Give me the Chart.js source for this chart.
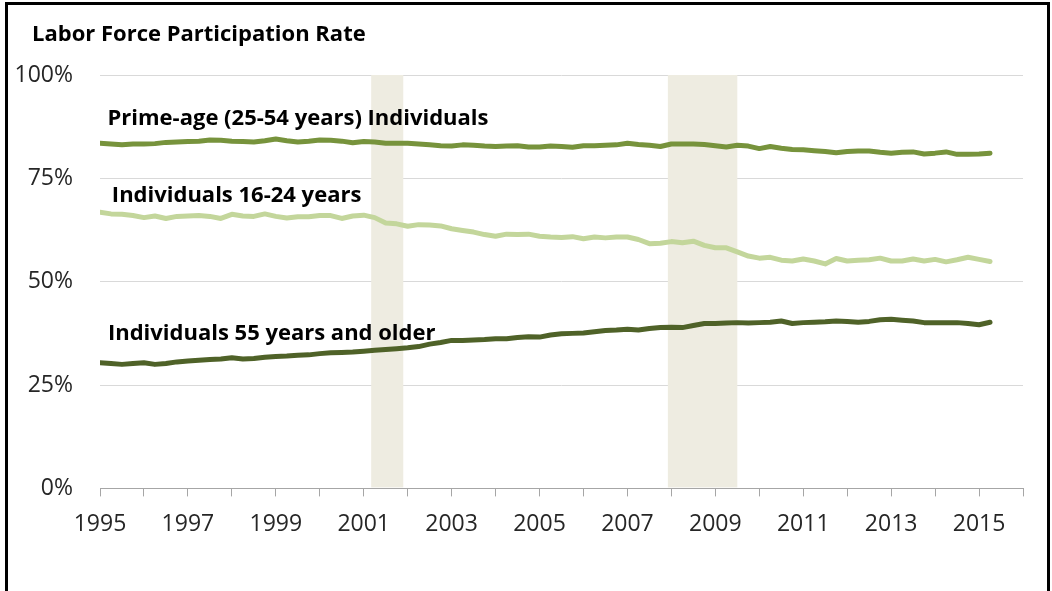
<!DOCTYPE html>
<html>
<head>
<meta charset="utf-8">
<script src="https://cdn.jsdelivr.net/npm/chart.js@4/dist/chart.umd.min.js"></script>
<style>
html, body { margin: 0; padding: 0; background: #fff; overflow: hidden }
#wrap { position: relative; width: 1052px; height: 591px }
#frame { position: absolute; left: 5px; top: 2px; width: 1039px; height: 620px; border: 3px solid #000; pointer-events: none }
</style>
</head>
<body>
<div id="wrap">
<canvas id="grafico" width="1052" height="591"></canvas>
<div id="frame"></div>
</div>
<script>
const titulo = "Labor Force Participation Rate"

// trimestres (ano decimal)
const datas = [
    1995, 1995.25, 1995.5, 1995.75, 1996, 1996.25, 1996.5, 1996.75,
    1997, 1997.25, 1997.5, 1997.75, 1998, 1998.25, 1998.5, 1998.75,
    1999, 1999.25, 1999.5, 1999.75, 2000, 2000.25, 2000.5, 2000.75,
    2001, 2001.25, 2001.5, 2001.75, 2002, 2002.25, 2002.5, 2002.75,
    2003, 2003.25, 2003.5, 2003.75, 2004, 2004.25, 2004.5, 2004.75,
    2005, 2005.25, 2005.5, 2005.75, 2006, 2006.25, 2006.5, 2006.75,
    2007, 2007.25, 2007.5, 2007.75, 2008, 2008.25, 2008.5, 2008.75,
    2009, 2009.25, 2009.5, 2009.75, 2010, 2010.25, 2010.5, 2010.75,
    2011, 2011.25, 2011.5, 2011.75, 2012, 2012.25, 2012.5, 2012.75,
    2013, 2013.25, 2013.5, 2013.75, 2014, 2014.25, 2014.5, 2014.75,
    2015, 2015.25
]

const primeAge = [
    83.5, 83.3, 83.1, 83.3, 83.3, 83.4, 83.7, 83.8,
    83.9, 84.0, 84.3, 84.2, 84.0, 83.9, 83.8, 84.1,
    84.5, 84.1, 83.8, 84.0, 84.3, 84.2, 84.0, 83.6,
    83.9, 83.8, 83.5, 83.5, 83.5, 83.3, 83.1, 82.9,
    82.8, 83.1, 83.0, 82.8, 82.7, 82.8, 82.9, 82.6,
    82.6, 82.8, 82.7, 82.5, 82.9, 82.9, 83.0, 83.1,
    83.5, 83.2, 83.0, 82.7, 83.3, 83.3, 83.3, 83.2,
    82.9, 82.6, 83.0, 82.8, 82.2, 82.7, 82.3, 82.0,
    81.9, 81.7, 81.5, 81.2, 81.5, 81.6, 81.6, 81.3,
    81.1, 81.3, 81.4, 80.9, 81.1, 81.4, 80.8, 80.8,
    80.9, 81.1
]

const jovens = [
    66.8, 66.4, 66.3, 66.0, 65.5, 65.9, 65.3, 65.8,
    65.9, 66.0, 65.8, 65.3, 66.3, 65.9, 65.8, 66.4,
    65.8, 65.4, 65.7, 65.7, 66.0, 66.0, 65.3, 65.9,
    66.1, 65.5, 64.2, 64.0, 63.4, 63.8, 63.7, 63.5,
    62.8, 62.4, 62.0, 61.4, 61.0, 61.5, 61.4, 61.5,
    61.0, 60.8, 60.7, 60.9, 60.4, 60.8, 60.6, 60.8,
    60.8, 60.2, 59.2, 59.3, 59.7, 59.4, 59.8, 58.8,
    58.2, 58.2, 57.2, 56.2, 55.7, 55.9, 55.2, 55.0,
    55.5, 55.0, 54.3, 55.6, 55.0, 55.2, 55.3, 55.7,
    55.0, 55.0, 55.5, 55.0, 55.4, 54.8, 55.3, 55.9,
    55.4, 54.9
]

const maiores55 = [
    30.4, 30.2, 30.0, 30.2, 30.4, 30.0, 30.2, 30.6,
    30.8, 31.0, 31.2, 31.3, 31.6, 31.3, 31.4, 31.7,
    31.9, 32.0, 32.2, 32.3, 32.6, 32.8, 32.9, 33.0,
    33.2, 33.4, 33.6, 33.8, 34.0, 34.3, 34.9, 35.3,
    35.8, 35.8, 35.9, 36.0, 36.2, 36.2, 36.5, 36.7,
    36.6, 37.1, 37.4, 37.5, 37.6, 37.9, 38.2, 38.3,
    38.5, 38.3, 38.7, 38.9, 39.0, 38.9, 39.4, 39.9,
    39.9, 40.0, 40.1, 40.0, 40.1, 40.2, 40.5, 39.9,
    40.1, 40.2, 40.3, 40.5, 40.4, 40.2, 40.4, 40.8,
    40.9, 40.7, 40.5, 40.1, 40.1, 40.1, 40.1, 39.9,
    39.6, 40.2
]

const anosTicks = [1995, 1996, 1997, 1998, 1999, 2000, 2001, 2002, 2003, 2004, 2005,
    2006, 2007, 2008, 2009, 2010, 2011, 2012, 2013, 2014, 2015, 2016]
const anosRotulo = [1995, 1997, 1999, 2001, 2003, 2005, 2007, 2009, 2011, 2013, 2015]

const recessaoInicio = [2001.17, 2007.92]
const recessaoFim = [2001.9, 2009.5]

const rotulosSeries = ["Prime-age (25-54 years) Individuals", "Individuals 16-24 years", "Individuals 55 years and older"]
const rotuloX = [1995.17, 1995.27, 1995.18]
const rotuloY = [87.8, 69.2, 36.0]

const fonte = "'Open Sans', Lato, sans-serif"


function pontos(valores) {
    return datas.map((d, i) => ({ x: d, y: valores[i] }))
}

const recessoes = {
    id: "recessoes",
    beforeDatasetsDraw(chart) {
        const { ctx, chartArea, scales } = chart
        ctx.save()
        ctx.fillStyle = "#EEECE1"
        for (let i = 0; i < recessaoInicio.length; i++) {
            const x1 = scales.x.getPixelForValue(recessaoInicio[i])
            const x2 = scales.x.getPixelForValue(recessaoFim[i])
            ctx.fillRect(x1, chartArea.top, x2 - x1, chartArea.bottom - chartArea.top - 1)
        }
        ctx.restore()
    }
}

const rotulos = {
    id: "rotulos",
    afterDatasetsDraw(chart) {
        const { ctx, scales } = chart
        ctx.save()
        ctx.fillStyle = "#000"
        ctx.textAlign = "left"
        ctx.textBaseline = "alphabetic"

        // titulo do grafico
        ctx.font = "bold 22px " + fonte
        ctx.fillText(titulo, 32, 41)

        ctx.font = "bold 22px " + fonte
        rotulosSeries.forEach((txt, i) => {
            ctx.fillText(txt, scales.x.getPixelForValue(rotuloX[i]), scales.y.getPixelForValue(rotuloY[i]))
        })
        ctx.restore()
    }
}

const linha = {
    pointRadius: 0,
    borderWidth: 5,
    borderJoinStyle: "round",
    borderCapStyle: "round",
    tension: 0,
    fill: false
}

new Chart(document.getElementById("grafico"), {
    type: "line",
    data: {
        datasets: [
            { ...linha, label: rotulosSeries[0], data: pontos(primeAge), borderColor: "#77933C" },
            { ...linha, label: rotulosSeries[1], data: pontos(jovens), borderColor: "#C3D69B" },
            { ...linha, label: rotulosSeries[2], data: pontos(maiores55), borderColor: "#4F6228" }
        ]
    },
    options: {
        responsive: false,
        animation: false,
        layout: { padding: { left: 8, right: 29, top: 75, bottom: 39 } },
        plugins: {
            legend: { display: false },
            tooltip: { enabled: false },
            title: { display: false }
        },
        scales: {
            x: {
                type: "linear",
                min: 1995,
                max: 2016,
                afterBuildTicks: axis => { axis.ticks = anosTicks.map(a => ({ value: a })) },
                ticks: {
                    autoSkip: false,
                    maxRotation: 0,
                    padding: 14,
                    color: "#262626",
                    font: { family: fonte, size: 23 },
                    callback: v => anosRotulo.includes(v) ? String(v) : ""
                },
                grid: { drawOnChartArea: false, drawTicks: true, tickLength: 8, color: "#A6A6A6" },
                border: { color: "#A6A6A6", width: 1 }
            },
            y: {
                min: 0,
                max: 100,
                afterFit: s => { s.width = 92 },
                ticks: {
                    stepSize: 25,
                    padding: 27,
                    color: "#262626",
                    font: { family: fonte, size: 23 },
                    callback: v => v + "%"
                },
                grid: { color: "#D9D9D9", drawTicks: false },
                border: { display: false }
            }
        }
    },
    plugins: [recessoes, rotulos]
})
</script>
</body>
</html>
